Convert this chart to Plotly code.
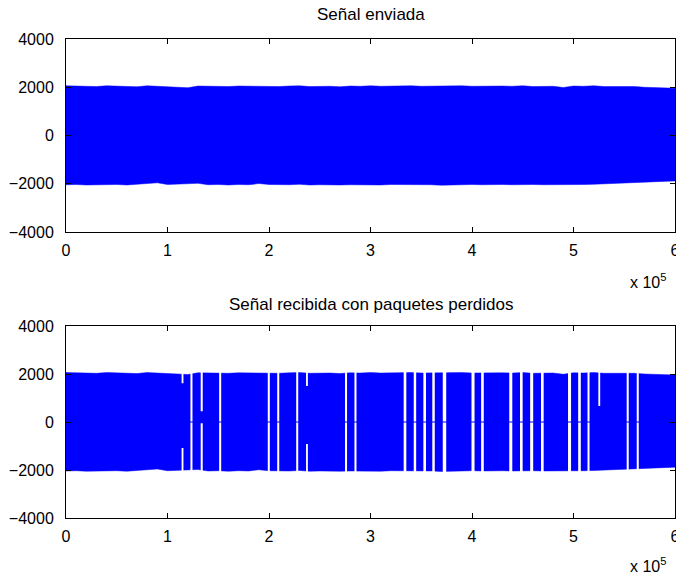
import plotly.graph_objects as go

# Sample axis of the envelopes (samples), one point every 10 000 samples
env_x = [i * 10000 for i in range(61)]

# Upper / lower envelope of the transmitted signal
env_upper = [2060, 2040, 2050, 2030, 2060, 2040, 2050, 2020, 2060, 2040,
             2050, 2030, 1980, 2050, 2040, 2060, 2030, 2050, 2040, 2060,
             2040, 2030, 2050, 2060, 2030, 2050, 2040, 2020, 2050, 2040,
             2060, 2040, 2050, 2030, 2060, 2040, 2050, 2030, 2040, 2060,
             2040, 2050, 2030, 2050, 2040, 2060, 2030, 2050, 2040, 1990,
             2050, 2040, 2060, 2030, 2040, 2020, 2030, 2000, 1990, 1970, 1960]
env_lower = [-2040, -2030, -2050, -2020, -2040, -2030, -2050, -2020, -2000, -1960,
             -2030, -2040, -2000, -1980, -2040, -2030, -2050, -2030, -2040, -1990,
             -2030, -2050, -2040, -2020, -2050, -2040, -2030, -2050, -2040, -2030,
             -2040, -2050, -2030, -2040, -2050, -2030, -2040, -2060, -2040, -2050,
             -2030, -2040, -2050, -2030, -2040, -2050, -2030, -2040, -2050, -2030,
             -2040, -2030, -2020, -2000, -1980, -1990, -1960, -1940, -1920, -1900, -1880]

# Lost packets: (first sample, last sample), signal is zero there
lost_start = [122600, 150900, 198800, 208100, 226800, 274900, 284200, 332700,
              342600, 352100, 360900, 371200, 399500, 409000, 436700, 447300,
              457300, 468000, 494600, 504600, 513800, 552400, 562300]
lost_end = [124600, 152900, 200800, 210100, 228800, 276900, 286200, 335300,
            345000, 354700, 363300, 374600, 402500, 411600, 439700, 449900,
            460300, 470600, 497600, 507200, 515800, 554400, 564300]

# Partially damaged packets: (start, end, remaining max, remaining min)
weak_start = [113900, 132700, 236500, 524500]
weak_end = [115700, 134700, 238300, 526300]
weak_hi = [1620, 450, 1500, 670]
weak_lo = [-1080, -50, -920, -2100]

x_ticks = [0, 100000, 200000, 300000, 400000, 500000, 600000]
x_labels = ["0", "1", "2", "3", "4", "5", "6"]
y_ticks = [-4000, -2000, 0, 2000, 4000]

BLUE = "#0000FF"
FONT = "Liberation Sans, Arial, sans-serif"


def envelope_polygon():
    xs = list(env_x) + list(reversed(env_x)) + [env_x[0]]
    ys = list(env_upper) + list(reversed(env_lower)) + [env_upper[0]]
    return xs, ys


fig = go.Figure()

# Transmitted signal
px, py = envelope_polygon()
fig.add_trace(go.Scatter(x=px, y=py, fill="toself", fillcolor=BLUE,
                         line=dict(color=BLUE, width=0.5), mode="lines",
                         hoverinfo="skip", xaxis="x", yaxis="y"))

# Received signal: same waveform, blanked where packets were lost
fig.add_trace(go.Scatter(x=px, y=py, fill="toself", fillcolor=BLUE,
                         line=dict(color=BLUE, width=0.5), mode="lines",
                         hoverinfo="skip", xaxis="x2", yaxis="y2"))

gx, gy = [], []
for s, e in zip(lost_start, lost_end):
    gx += [s, e, e, s, s, None]
    gy += [-2300, -2300, 2300, 2300, -2300, None]
for s, e, hi, lo in zip(weak_start, weak_end, weak_hi, weak_lo):
    gx += [s, e, e, s, s, None]
    gy += [hi, hi, 2300, 2300, hi, None]
    gx += [s, e, e, s, s, None]
    gy += [-2300, -2300, lo, lo, -2300, None]
fig.add_trace(go.Scatter(x=gx, y=gy, fill="toself", fillcolor="white",
                         line=dict(width=0), mode="lines",
                         hoverinfo="skip", xaxis="x2", yaxis="y2"))

# Zero level during the lost packets
fig.add_trace(go.Scatter(x=[env_x[0], env_x[-1]], y=[0, 0], mode="lines",
                         line=dict(color=BLUE, width=1),
                         hoverinfo="skip", xaxis="x2", yaxis="y2"))

axis_common = dict(showline=True, linecolor="black", linewidth=1,
                   mirror="ticks", ticks="inside", ticklen=5,
                   tickcolor="black", showgrid=False, zeroline=False,
                   ticklabeloverflow="allow", automargin=False,
                   tickfont=dict(family=FONT, size=16, color="black"))

fig.update_layout(
    width=676, height=576,
    margin=dict(l=66, r=1, t=39, b=58, autoexpand=False),
    paper_bgcolor="white", plot_bgcolor="white",
    showlegend=False,
    xaxis=dict(domain=[0, 1], anchor="y", range=[0, 600000],
               tickvals=x_ticks, ticktext=x_labels, ticklabelstandoff=4,
               **axis_common),
    yaxis=dict(domain=[0.597, 1], anchor="x", range=[-4000, 4000],
               tickvals=y_ticks, ticklabelstandoff=8, **axis_common),
    xaxis2=dict(domain=[0, 1], anchor="y2", range=[0, 600000],
                tickvals=x_ticks, ticktext=x_labels, ticklabelstandoff=4,
                **axis_common),
    yaxis2=dict(domain=[0, 0.4008], anchor="x2", range=[-4000, 4000],
                tickvals=y_ticks, ticklabelstandoff=8, **axis_common),
)

ann_font = dict(family=FONT, size=17, color="black")
fig.add_annotation(text="Señal enviada", xref="paper", yref="paper",
                   x=0.5, y=1.052, xanchor="center", yanchor="middle",
                   showarrow=False, font=ann_font)
fig.add_annotation(text="Señal recibida con paquetes perdidos", xref="paper",
                   yref="paper", x=0.5, y=0.4447, xanchor="center",
                   yanchor="middle", showarrow=False, font=ann_font)
for ypos in (0.4948, -0.099):
    fig.add_annotation(text="x 10<sup>5</sup>", xref="paper", yref="paper",
                       x=0.9885, y=ypos, xanchor="right", yanchor="middle",
                       showarrow=False,
                       font=dict(family=FONT, size=16, color="black"))

fig.write_html("out.html")
